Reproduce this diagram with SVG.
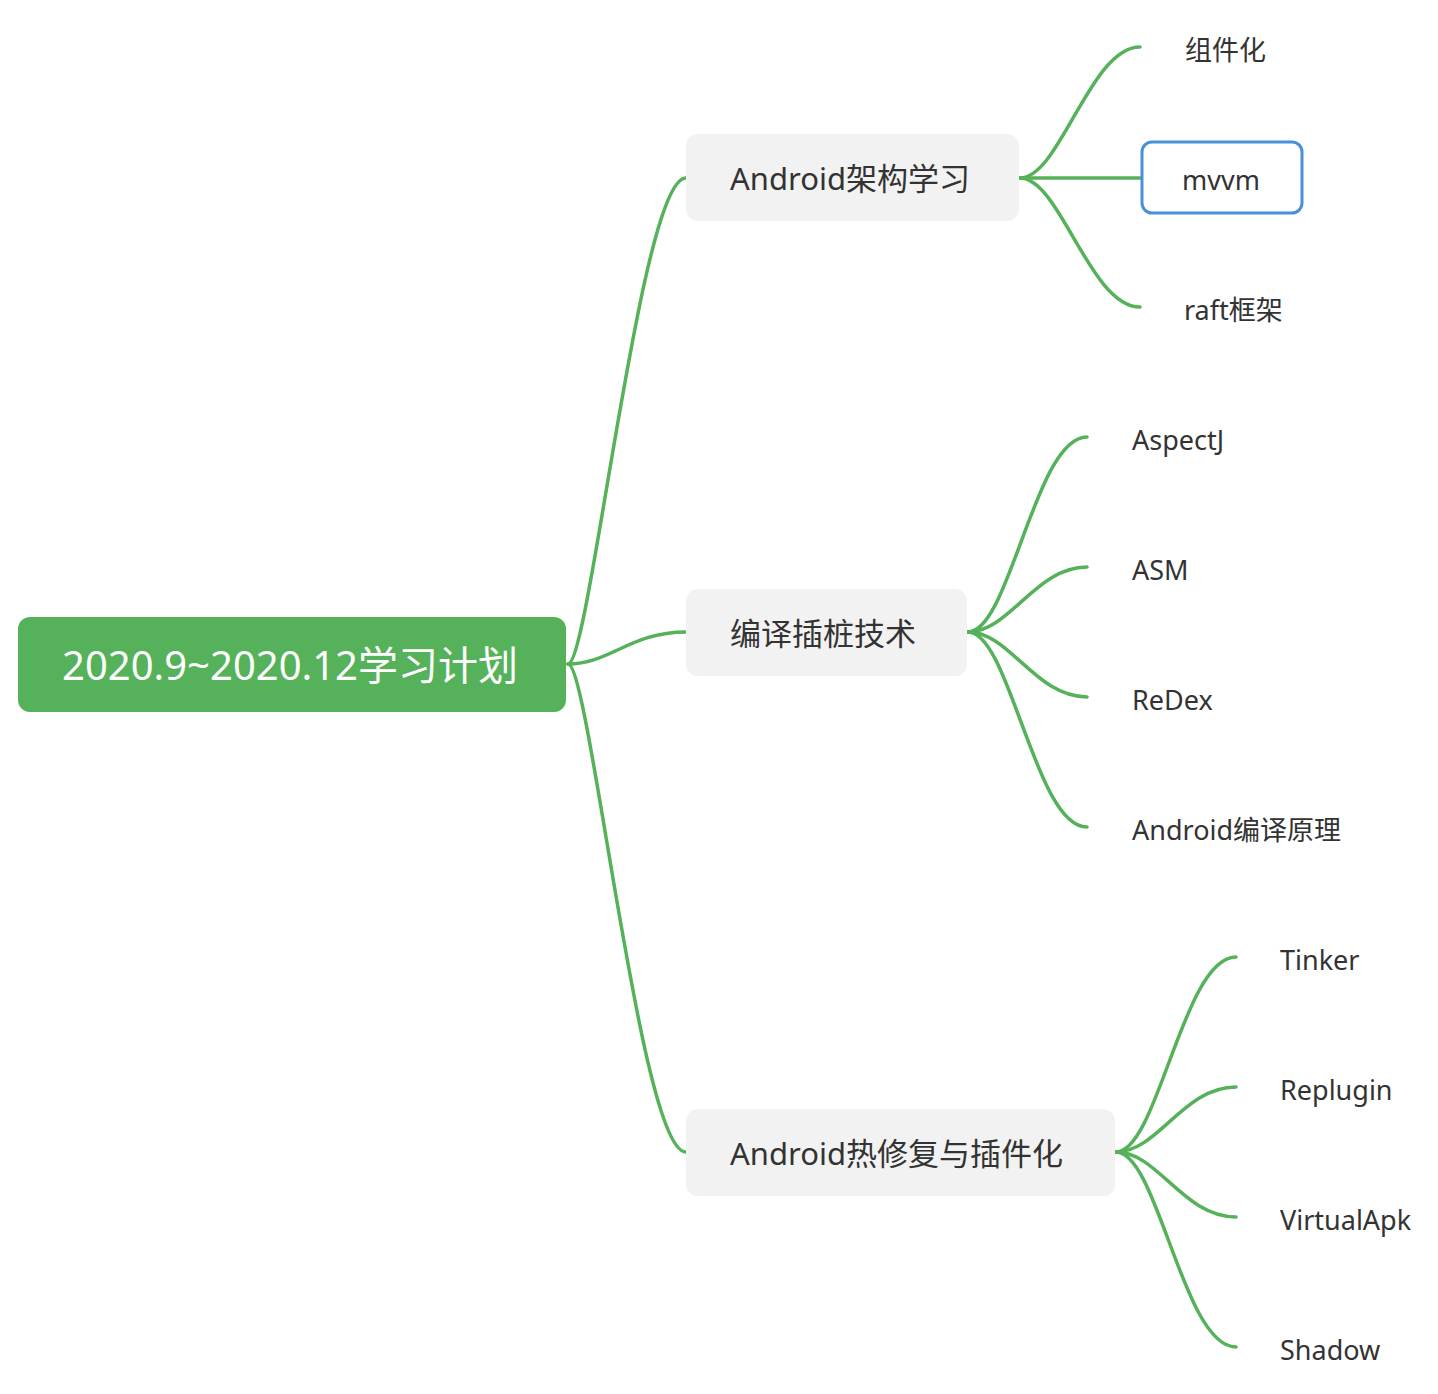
<svg xmlns="http://www.w3.org/2000/svg" width="1438" height="1394" viewBox="0 0 1438 1394">
<style>
.bg{fill:#ffffff}
.ln{fill:none;stroke:#55b15a;stroke-width:3.5;stroke-linecap:round}
.root{fill:#55b25a}
.l1{fill:#f2f2f2}
.t{font-family:"Noto Sans","Noto Sans CJK SC",sans-serif;fill:#333333}
.rt{font-family:"Noto Sans","Noto Sans CJK SC",sans-serif;fill:#ffffff;font-size:40px}
.t1{font-size:31px}
.t2{font-size:27px}
.sel{fill:#ffffff;stroke:#4a90d9;stroke-width:3}
</style>
<rect class="bg" x="0" y="0" width="1438" height="1394"/>
<g id="connectors">
<path class="ln" d="M568,664 C590,664 640,178 686,178"/>
<path class="ln" d="M568,664 C610,664 630,632 686,632"/>
<path class="ln" d="M568,664 C590,664 640,1152 686,1152"/>
<path class="ln" d="M1020,178 C1060,178 1090,47 1140,47"/>
<path class="ln" d="M1020,178 L1141,178"/>
<path class="ln" d="M1020,178 C1060,178 1090,307 1140,307"/>
<path class="ln" d="M968,632 C1010,632 1035,437 1087,437"/>
<path class="ln" d="M968,632 C1010,632 1035,567 1087,567"/>
<path class="ln" d="M968,632 C1010,632 1035,697 1087,697"/>
<path class="ln" d="M968,632 C1010,632 1035,827 1087,827"/>
<path class="ln" d="M1116,1152 C1158,1152 1183,957 1236,957"/>
<path class="ln" d="M1116,1152 C1158,1152 1183,1087 1236,1087"/>
<path class="ln" d="M1116,1152 C1158,1152 1183,1217 1236,1217"/>
<path class="ln" d="M1116,1152 C1158,1152 1183,1347 1236,1347"/>
</g>
<g id="root">
<rect class="root" x="18" y="617" width="548" height="95" rx="12"/>
<text class="rt" x="290" y="680" text-anchor="middle">2020.9~2020.12学习计划</text>
</g>
<g id="n-arch">
<rect class="l1" x="686" y="134" width="333" height="87" rx="12"/>
<text class="t t1" x="730" y="190">Android架构学习</text>
</g>
<g id="n-compile">
<rect class="l1" x="686" y="589" width="281" height="87" rx="12"/>
<text class="t t1" x="730" y="645">编译插桩技术</text>
</g>
<g id="n-hotfix">
<rect class="l1" x="686" y="1109" width="429" height="87" rx="12"/>
<text class="t t1" x="730" y="1165">Android热修复与插件化</text>
</g>
<g id="n-component"><text class="t t2" x="1185" y="60">组件化</text></g>
<g id="n-mvvm">
<rect class="sel" x="1142" y="142" width="160" height="71" rx="10"/>
<text class="t t2" x="1221" y="190" text-anchor="middle">mvvm</text>
</g>
<g id="n-raft"><text class="t t2" x="1184" y="320">raft框架</text></g>
<g id="n-aspectj"><text class="t t2" x="1132" y="450">AspectJ</text></g>
<g id="n-asm"><text class="t t2" x="1132" y="580">ASM</text></g>
<g id="n-redex"><text class="t t2" x="1132" y="710">ReDex</text></g>
<g id="n-compileprinciple"><text class="t t2" x="1132" y="840">Android编译原理</text></g>
<g id="n-tinker"><text class="t t2" x="1280" y="970">Tinker</text></g>
<g id="n-replugin"><text class="t t2" x="1280" y="1100">Replugin</text></g>
<g id="n-virtualapk"><text class="t t2" x="1280" y="1230">VirtualApk</text></g>
<g id="n-shadow"><text class="t t2" x="1280" y="1360">Shadow</text></g>
</svg>
